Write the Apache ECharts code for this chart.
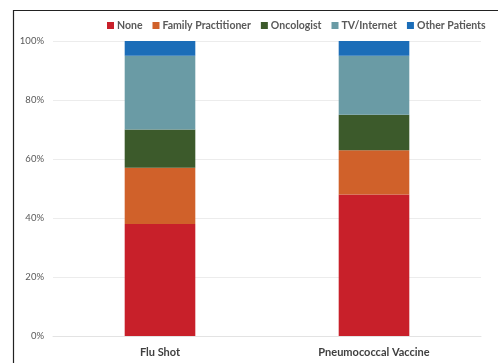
<!DOCTYPE html>
<html>
<head>
<meta charset="utf-8">
<script src="https://cdn.jsdelivr.net/npm/echarts@6/dist/echarts.min.js"></script>
<style>
html, body { margin: 0; padding: 0; background: #fff; }
#chart { width: 498px; height: 363px; }
</style>
</head>
<body>
<div id="chart"></div>
<script>
// Source of vaccine information, share of respondents (%)
const categories = ['Flu Shot', 'Pneumococcal Vaccine'];
const seriesNames = ['None', 'Family Practitioner', 'Oncologist', 'TV/Internet', 'Other Patients'];
const noneVals = [38, 48];
const familyVals = [19, 15];
const oncologistVals = [13, 12];
const tvVals = [25, 20];
const otherVals = [5, 5];
const yTicks = [0, 20, 40, 60, 80, 100];

const colors = ['#C8202A', '#D0612A', '#3C5A2B', '#6A9BA5', '#1B6DB8'];
const valueSets = [noneVals, familyVals, oncologistVals, tvVals, otherVals];

const chart = echarts.init(document.getElementById('chart'));
chart.setOption({
  animation: false,
  color: colors,
  textStyle: { fontFamily: 'Lato, "Open Sans", sans-serif' },
  legend: {
    top: 20,
    left: 107,
    width: 600,
    padding: 0,
    itemWidth: 7,
    itemHeight: 7,
    itemGap: 10,
    icon: 'rect',
    textStyle: { color: '#595959', fontSize: 10.5, fontWeight: 'bold', padding: [0, 0, 0, -2] },
    data: seriesNames
  },
  grid: { left: 53, right: 17, top: 41, bottom: 27 },
  xAxis: {
    type: 'category',
    data: categories,
    axisLine: { lineStyle: { color: '#e3e3e3' } },
    axisTick: { show: false },
    axisLabel: { color: '#404040', fontSize: 11, fontWeight: 'bold', margin: 11 }
  },
  yAxis: {
    type: 'value',
    min: yTicks[0],
    max: yTicks[yTicks.length - 1],
    interval: 20,
    axisLine: { show: false },
    axisTick: { show: false },
    splitLine: { lineStyle: { color: '#ececec' } },
    axisLabel: { color: '#595959', fontSize: 9.5, margin: 9, formatter: '{value}%' }
  },
  series: seriesNames.map((name, i) => ({
    name: name,
    type: 'bar',
    stack: 'total',
    barWidth: '33%',
    data: valueSets[i]
  })),
  graphic: [
    { type: 'line', shape: { x1: 13, y1: 10.5, x2: 498, y2: 10.5 }, style: { stroke: '#222', lineWidth: 1.2 } },
    { type: 'line', shape: { x1: 13.5, y1: 10, x2: 13.5, y2: 363 }, style: { stroke: '#222', lineWidth: 1.2 } }
  ]
});
</script>
</body>
</html>
